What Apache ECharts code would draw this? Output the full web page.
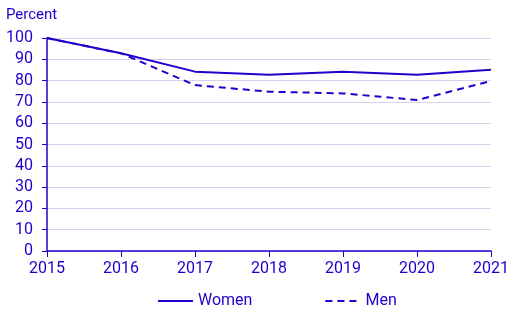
<!DOCTYPE html>
<html><head><meta charset="utf-8">
<script src="https://cdn.jsdelivr.net/npm/echarts@6/dist/echarts.min.js"></script>
<style>html,body{margin:0;padding:0;background:#fff}#c{width:525px;height:326px}</style>
</head><body><div id="c"></div>
<script>
const years = ['2015','2016','2017','2018','2019','2020','2021'];
const women = [100, 92.8, 84.2, 82.8, 84.2, 82.8, 85.1];
const men = [100, 92.8, 77.9, 74.8, 74.0, 70.9, 79.8];
const yTicks = {min: 0, max: 100, interval: 10};
const yTitle = 'Percent';
const C = '#2200cc';
const chart = echarts.init(document.getElementById('c'));
chart.setOption({
  animation: false,
  textStyle: {fontFamily: 'Roboto', color: C},
  title: {text: yTitle, left: 1, top: 3, textStyle: {fontFamily: 'Roboto', fontSize: 15, fontWeight: 'normal', color: C}},
  grid: {left: 47, right: 34, top: 38, bottom: 75},
  legend: {
    bottom: 12, left: 152, itemWidth: 35, itemHeight: 14, itemGap: 72,
    itemStyle: {opacity: 0},
    textStyle: {fontFamily: 'Roboto', fontSize: 16, color: C},
    data: ['Women', 'Men']
  },
  xAxis: {
    type: 'category', data: years, boundaryGap: false,
    axisLine: {lineStyle: {color: C, width: 1.5}},
    axisTick: {show: true, length: 6, lineStyle: {color: C}},
    axisLabel: {fontSize: 16, color: C, margin: 10, fontFamily: 'Roboto'}
  },
  yAxis: {
    type: 'value', min: yTicks.min, max: yTicks.max, interval: yTicks.interval,
    axisLine: {show: true, lineStyle: {color: C, width: 1.5}},
    axisTick: {show: true, length: 5, lineStyle: {color: C}},
    axisLabel: {fontSize: 16, color: C, margin: 14, fontFamily: 'Roboto'},
    splitLine: {lineStyle: {color: '#d4d0f0', width: 1}}
  },
  series: [
    {name: 'Women', type: 'line', data: women, symbol: 'none', lineStyle: {color: C, width: 2}, itemStyle: {color: C}},
    {name: 'Men', type: 'line', data: men, symbol: 'none', lineStyle: {color: C, width: 2, type: [7, 5]}, itemStyle: {color: C}}
  ]
});
</script></body></html>
